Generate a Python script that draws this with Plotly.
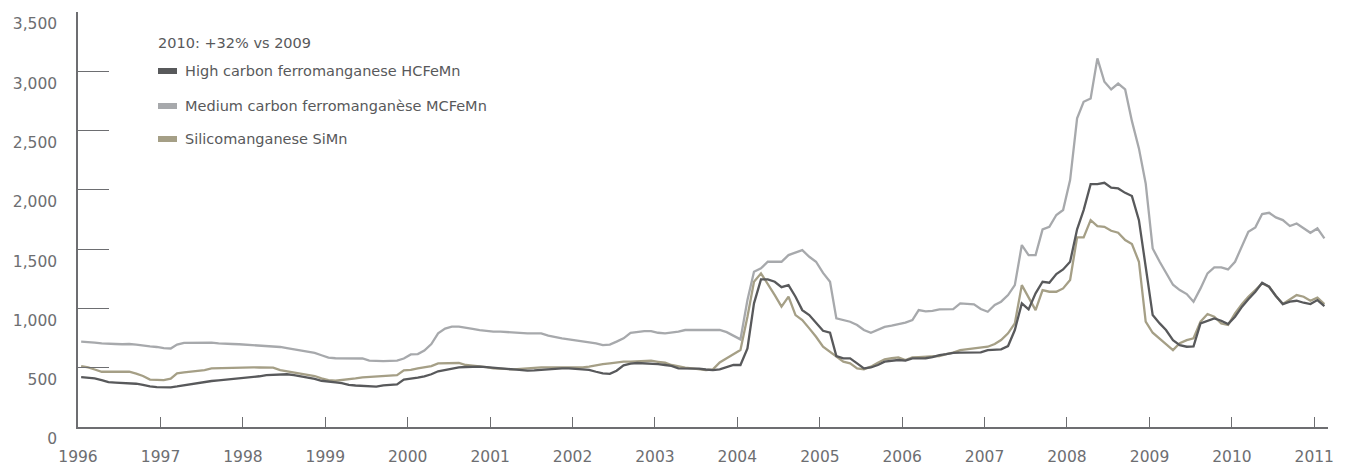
import plotly.graph_objects as go

# Monthly prices, Jan 1996 - Feb 2011 (USD/t)
start_year = 1996
n_months = 182

hc_femn = [
    420, 415, 410, 395, 378, 374, 372, 370, 365, 355, 342, 336,      # 1996
    334, 335, 342, 352, 360, 370, 380, 388, 393, 398, 402, 410,      # 1997
    416, 420, 428, 438, 442, 447, 445, 438, 428, 418, 405, 390,      # 1998
    380, 376, 370, 356, 350, 346, 342, 340, 352, 356, 360, 400,      # 1999
    405, 416, 428, 445, 470, 482, 495, 503, 506, 509, 509, 505,      # 2000
    498, 494, 490, 486, 480, 476, 478, 482, 492, 495, 495, 495,      # 2001
    492, 488, 482, 466, 452, 448, 475, 520, 535, 540, 538, 537,      # 2002
    530, 523, 515, 495, 495, 495, 493, 485, 480, 486, 505, 523,      # 2003
    523, 663, 1043, 1245, 1245, 1225, 1180, 1197, 1099, 986, 944, 880,  # 2004
    812, 795, 599, 579, 579, 537, 495, 502, 523, 551, 560, 565,      # 2005
    560, 579, 579, 580, 590, 607, 615, 625, 627, 627, 627, 630,      # 2006
    649, 652, 655, 683, 818, 1043, 992, 1127, 1225, 1217, 1290, 1329,  # 2007
    1394, 1667, 1830, 2049, 2049, 2060, 2018, 2012, 1975, 1948, 1745, 1352,  # 2008
    944, 874, 818, 733, 691, 677, 680, 874, 896, 916, 896, 868,      # 2009
    930, 1015, 1077, 1141, 1217, 1183, 1105, 1037, 1057, 1065, 1048, 1037,  # 2010
    1071, 1020,                                                      # 2011
]

mc_femn = [
    720, 718, 712, 705, 700, 700, 698, 700, 695, 685, 680, 675,      # 1996
    665, 662, 695, 710, 712, 712, 712, 712, 705, 700, 700, 698,      # 1997
    695, 692, 690, 685, 683, 675, 665, 655, 640, 635, 625, 605,      # 1998
    585, 580, 580, 580, 580, 578, 560, 555, 555, 557, 560, 578,      # 1999
    612, 615, 645, 700, 790, 830, 846, 846, 840, 828, 818, 808,      # 2000
    804, 804, 800, 795, 792, 790, 790, 790, 770, 756, 748, 739,      # 2001
    730, 720, 712, 706, 690, 695, 720, 748, 795, 805, 809, 809,      # 2002
    795, 790, 795, 804, 818, 818, 818, 818, 818, 818, 800, 770,      # 2003
    739, 1071, 1310, 1338, 1394, 1394, 1394, 1450, 1470, 1492, 1436, 1394,  # 2004
    1300, 1225, 916, 902, 888, 860, 818, 795, 820, 845, 855, 868,    # 2005
    880, 902, 986, 975, 980, 992, 992, 995, 1043, 1040, 1034, 995,   # 2006
    972, 1029, 1057, 1113, 1197, 1535, 1450, 1450, 1667, 1689, 1788, 1830,  # 2007
    2083, 2603, 2743, 2771, 3109, 2912, 2847, 2897, 2847, 2580, 2350, 2054,  # 2008
    1506, 1394, 1296, 1200, 1155, 1121, 1057, 1169, 1296, 1346, 1346, 1329,  # 2009
    1394, 1520, 1647, 1684, 1796, 1807, 1768, 1745, 1695, 1717, 1675, 1638,  # 2010
    1675, 1591,                                                      # 2011
]

simn = [
    514, 503, 485, 466, 466, 466, 466, 466, 450, 430, 400, 396,      # 1996
    396, 408, 452, 460, 466, 475, 480, 495, 497, 500, 500, 502,      # 1997
    503, 503, 502, 500, 500, 480, 470, 458, 445, 435, 430, 410,      # 1998
    396, 390, 395, 402, 410, 419, 422, 428, 430, 434, 438, 478,      # 1999
    482, 495, 505, 514, 537, 540, 542, 540, 523, 518, 514, 505,      # 2000
    495, 490, 488, 486, 490, 495, 500, 503, 503, 502, 500, 500,      # 2001
    500, 503, 510, 523, 531, 537, 545, 551, 551, 555, 559, 559,      # 2002
    550, 542, 523, 510, 500, 495, 486, 480, 486, 545, 579, 615,      # 2003
    649, 930, 1225, 1296, 1211, 1113, 1015, 1099, 944, 902, 832, 761,  # 2004
    677, 635, 590, 551, 537, 495, 486, 509, 542, 571, 580, 587,      # 2005
    565, 587, 590, 593, 595, 599, 615, 627, 649, 655, 665, 672,      # 2006
    677, 700, 733, 790, 874, 1197, 1099, 986, 1155, 1141, 1141, 1169,  # 2007
    1240, 1600, 1600, 1745, 1695, 1689, 1655, 1639, 1577, 1543, 1394, 888,  # 2008
    795, 748, 700, 649, 706, 733, 748, 888, 953, 930, 874, 860,      # 2009
    959, 1037, 1099, 1155, 1211, 1183, 1105, 1037, 1077, 1113, 1099, 1065,  # 2010
    1091, 1037,                                                      # 2011
]

series_names = [
    "High carbon ferromanganese HCFeMn",
    "Medium carbon ferromanganèse MCFeMn",
    "Silicomanganese SiMn",
]
series_colors = ["#58595b", "#a7a9ac", "#a59f86"]
legend_title = "2010: +32% vs 2009"

y_ticks = [0, 500, 1000, 1500, 2000, 2500, 3000, 3500]

months = [f"{start_year + i // 12}-{i % 12 + 1:02d}-15" for i in range(n_months)]

axis_color = "#6d6e71"
text_color = "#6d6e71"
FONT = "DejaVu Sans"

fig = go.Figure()
# draw order: medium (back), silico, high (front)
for idx in [1, 2, 0]:
    vals = [hc_femn, mc_femn, simn][idx]
    fig.add_trace(go.Scatter(
        x=months, y=vals, mode="lines", name=series_names[idx],
        line=dict(color=series_colors[idx], width=2.3),
        showlegend=False, hoverinfo="x+y",
    ))

# plot area in pixels
L, R, T, B = 78, 1328, 12, 427
W, H = R - L, B - T


def px(xp):
    return (xp - L) / W


def py(yp):
    return (B - yp) / H


# legend (title + swatches + text)
fig.add_annotation(x=px(156), y=py(43), xref="paper", yref="paper", text=legend_title,
                   showarrow=False, xanchor="left", yanchor="middle",
                   font=dict(family=FONT, size=14.5, color="#58595b"))
rows = [71, 106, 139]
for name, col, ry in zip(series_names, series_colors, rows):
    fig.add_shape(type="rect", xref="paper", yref="paper",
                  x0=px(158), x1=px(177), y0=py(ry + 3), y1=py(ry - 3),
                  fillcolor=col, line=dict(width=0))
    fig.add_annotation(x=px(183), y=py(ry), xref="paper", yref="paper", text=name,
                       showarrow=False, xanchor="left", yanchor="middle",
                       font=dict(family=FONT, size=14.5, color="#58595b"))

fig.update_layout(
    width=1347, height=466,
    margin=dict(l=L, r=1347 - R, t=T, b=466 - B, pad=0, autoexpand=False),
    paper_bgcolor="white", plot_bgcolor="white",
    font=dict(family=FONT, size=16, color=text_color),
    xaxis=dict(
        type="date", automargin=False,
        range=["1996-01-01", "2011-03-03"],
        tick0="1996-01-01", dtick="M12", tickformat="%Y",
        ticks="inside", ticklen=10, tickwidth=1.2, tickcolor=axis_color,
        showline=True, linecolor=axis_color, linewidth=1.5,
        showgrid=False, zeroline=False,
        ticklabelstandoff=15,
        tickfont=dict(family=FONT, size=15.5, color=text_color),
    ),
    yaxis=dict(
        automargin=False,
        range=[0, 3500.5],
        tickvals=y_ticks, tickformat=",",
        ticks="inside", ticklen=31, tickwidth=1.2, tickcolor=axis_color,
        showline=True, linecolor=axis_color, linewidth=1.5,
        showgrid=False, zeroline=False,
        ticklabelstandoff=16, ticklabelshift=12,
        tickfont=dict(family=FONT, size=15.5, color=text_color),
    ),
)

fig.write_html("out.html")
